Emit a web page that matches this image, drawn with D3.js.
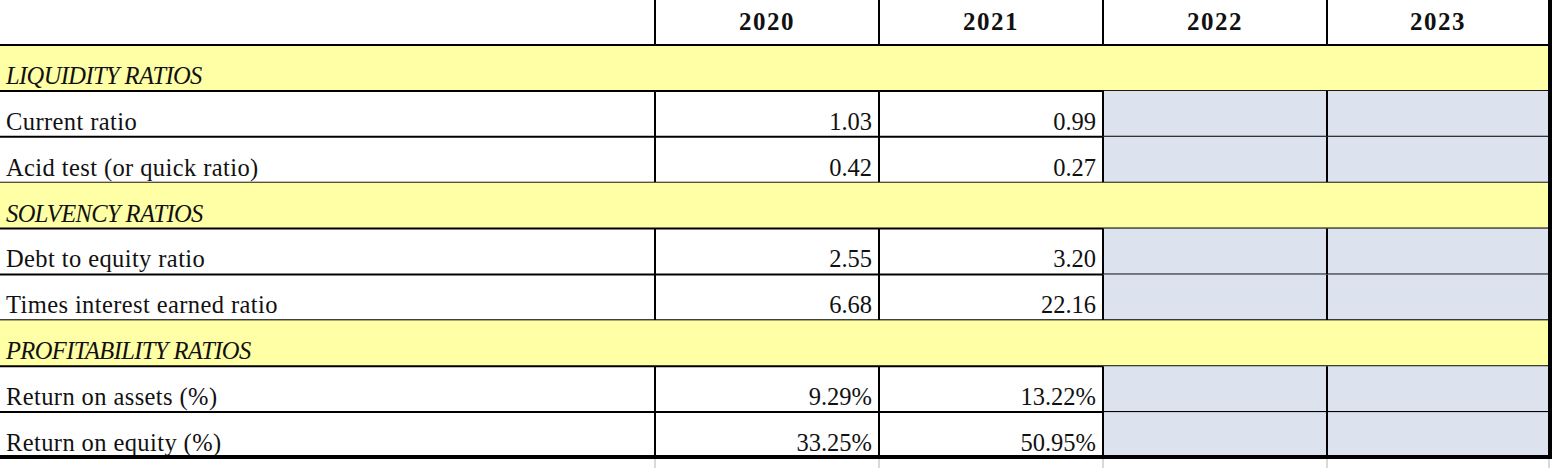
<!DOCTYPE html>
<html><head><meta charset="utf-8">
<script src="https://cdn.jsdelivr.net/npm/d3@7"></script>
<style>body{margin:0;background:#fff}</style>
</head><body><svg id="c" width="1554" height="468"></svg>
<script>
const years = ["2020","2021","2022","2023"];
const rowLabels = ["LIQUIDITY RATIOS","Current ratio","Acid test (or quick ratio)","SOLVENCY RATIOS","Debt to equity ratio","Times interest earned ratio","PROFITABILITY RATIOS","Return on assets (%)","Return on equity (%)"];
const isSection = [true,false,false,true,false,false,true,false,false];
const values2020 = ["","1.03","0.42","","2.55","6.68","","9.29%","33.25%"];
const values2021 = ["","0.99","0.27","","3.20","22.16","","13.22%","50.95%"];

const svg = d3.select("#c");
const colEdges = [0,655,879,1103,1327,1549];
const x = d3.scaleOrdinal().domain(d3.range(6)).range(colEdges);
const headerH = 45;
const y = d3.scaleLinear().domain([0, rowLabels.length]).range([headerH, 458]);
const font = "'Liberation Serif','Times New Roman',serif";
const vals = [values2020, values2021];

[655,879,1103,1327,1549].forEach(cx=>svg.append("line").attr("x1",cx).attr("x2",cx).attr("y1",458).attr("y2",468).attr("stroke","#d9d9d9").attr("stroke-width",2));

rowLabels.forEach((lab,i)=>{
  const y0 = y(i), y1 = y(i+1);
  if (isSection[i]) {
    svg.append("rect").attr("x",0).attr("y",y0).attr("width",1549).attr("height",y1-y0).attr("fill","#ffffa6");
    svg.append("text").attr("x",6).attr("y",y1-7).attr("font-family",font).attr("font-style","italic").attr("font-size",24.5).attr("letter-spacing",-0.6).attr("fill","#111").text(lab);
  } else {
    svg.append("rect").attr("x",1103).attr("y",y0).attr("width",446).attr("height",y1-y0).attr("fill","#dce3ee");
    svg.append("text").attr("x",6).attr("y",y1-7).attr("font-family",font).attr("font-size",24.5).attr("letter-spacing",0.4).attr("fill","#111").text(lab);
    vals.forEach((arr,j)=>{
      svg.append("text").attr("x",x(j+2)-7).attr("y",y1-7).attr("text-anchor","end").attr("font-family",font).attr("font-size",24.5).attr("fill","#111").text(arr[i]);
    });
    [655,879,1103,1327].forEach(cx=>svg.append("line").attr("x1",cx).attr("x2",cx).attr("y1",y0).attr("y2",y1).attr("stroke","#000").attr("stroke-width",2));
  }
  svg.append("line").attr("x1",0).attr("x2",1549).attr("y1",y1).attr("y2",y1).attr("stroke","#000").attr("stroke-width",2);
});
years.forEach((yr,j)=>{
  svg.append("text").attr("x",(x(j+1)+x(j+2))/2).attr("y",30).attr("text-anchor","middle").attr("font-family",font).attr("font-weight","bold").attr("font-size",25).attr("letter-spacing",1.5).attr("fill","#111").text(yr);
});
[655,879,1103,1327].forEach(cx=>svg.append("line").attr("x1",cx).attr("x2",cx).attr("y1",0).attr("y2",headerH).attr("stroke","#000").attr("stroke-width",2));
svg.append("line").attr("x1",0).attr("x2",1549).attr("y1",headerH).attr("y2",headerH).attr("stroke","#000").attr("stroke-width",2);
svg.append("line").attr("x1",1550).attr("x2",1550).attr("y1",0).attr("y2",459).attr("stroke","#000").attr("stroke-width",4);
svg.append("line").attr("x1",0).attr("x2",1552).attr("y1",457).attr("y2",457).attr("stroke","#000").attr("stroke-width",4);
</script></body></html>
